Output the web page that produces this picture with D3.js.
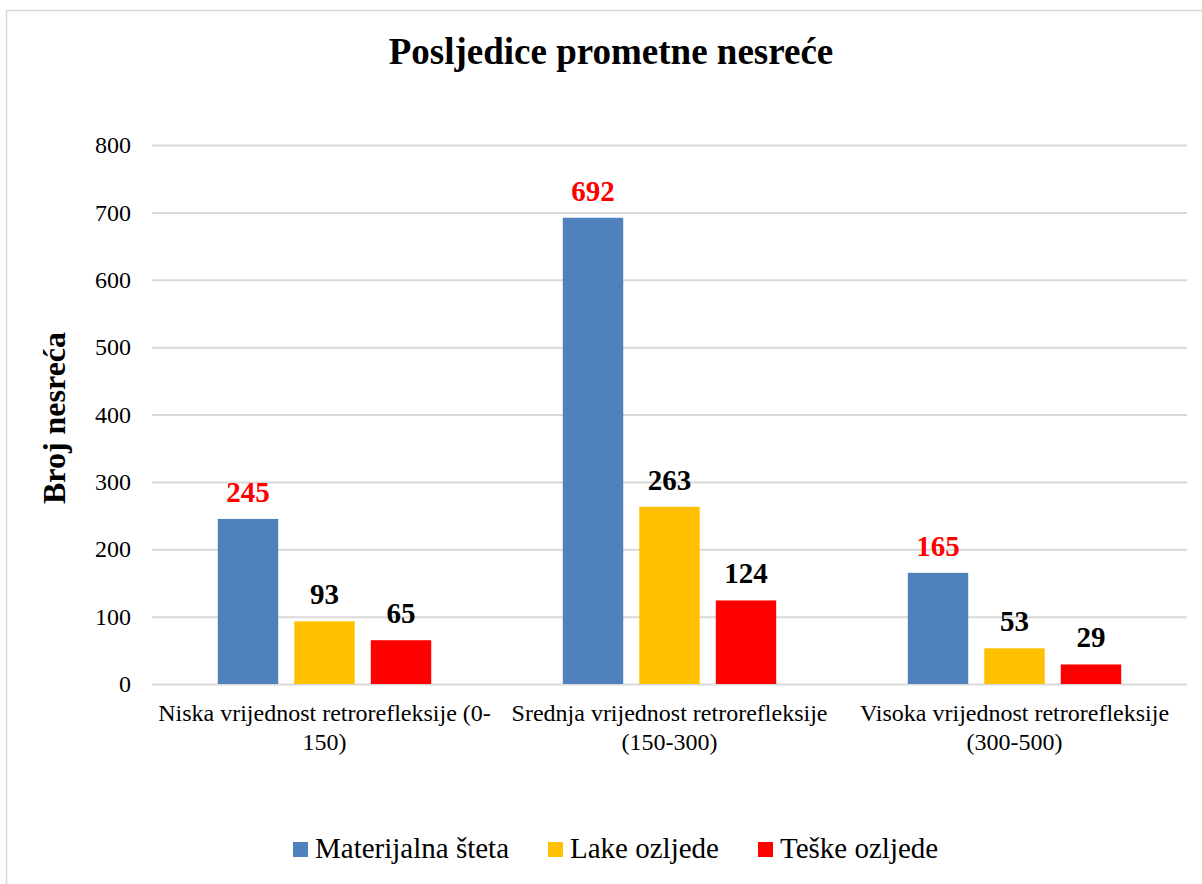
<!DOCTYPE html>
<html>
<head>
<meta charset="utf-8">
<script src="https://cdn.jsdelivr.net/npm/d3@7"></script>
<style>
  body { margin: 0; background: #fff; }
  svg text { font-family: "Liberation Serif", "Times New Roman", serif; }
</style>
</head>
<body>
<div id="chart"></div>
<script>
// Data
const categories = [
  ["Niska vrijednost retrorefleksije (0-", "150)"],
  ["Srednja vrijednost retrorefleksije", "(150-300)"],
  ["Visoka vrijednost retrorefleksije", "(300-500)"]
];
const seriesNames = ["Materijalna šteta", "Lake ozljede", "Teške ozljede"];
const materijalna = [245, 692, 165];
const lake = [93, 263, 53];
const teske = [65, 124, 29];
const yTicks = [0, 100, 200, 300, 400, 500, 600, 700, 800];

const colors = ["#4F81BD", "#FFC000", "#FF0000"];
const labelColors = ["#FF0000", "#000000", "#000000"];
const values = [materijalna, lake, teske];
const serif = "Liberation Serif, Times New Roman, serif";

const W = 1202, H = 884;
const plot = { left: 152, right: 1187, top: 145, bottom: 684 };

const svg = d3.select("#chart").append("svg")
  .attr("width", W)
  .attr("height", H);

// Chart border
svg.append("rect")
  .attr("x", 6.5).attr("y", 10.5)
  .attr("width", 1200).attr("height", 880)
  .attr("fill", "#fff")
  .attr("stroke", "#d9d9d9")
  .attr("stroke-width", 1.5);

// Title
svg.append("text")
  .attr("x", 611).attr("y", 64)
  .attr("text-anchor", "middle")
  .attr("font-family", serif)
  .style("font-size", "37px")
  .style("font-weight", "bold")
  .text("Posljedice prometne nesreće");

// Scales
const catIdx = d3.range(categories.length);
const x0 = d3.scaleBand()
  .domain(catIdx)
  .range([plot.left, plot.right])
  .padding(0);

const x1 = d3.scaleBand()
  .domain(d3.range(seriesNames.length))
  .range([0, x0.bandwidth()])
  .paddingInner(0.21)
  .paddingOuter(0.86);

const y = d3.scaleLinear()
  .domain([0, 800])
  .range([plot.bottom, plot.top]);

// Gridlines + y labels via axis
const yAxis = d3.axisLeft(y)
  .tickValues(yTicks)
  .tickSize(-(plot.right - plot.left))
  .tickPadding(21);

const gy = svg.append("g")
  .attr("transform", "translate(" + plot.left + ",0)")
  .call(yAxis)
  .attr("font-family", serif)
  .attr("font-size", 24);
gy.select(".domain").remove();
gy.selectAll(".tick line")
  .style("stroke", "#d9d9d9")
  .style("stroke-width", 2);
gy.selectAll(".tick text")
  .style("fill", "#000");

// Bars
const groups = svg.selectAll(".group")
  .data(catIdx)
  .enter().append("g")
  .attr("class", "group")
  .attr("transform", d => "translate(" + x0(d) + ",0)");

groups.selectAll("rect")
  .data(c => values.map((v, s) => ({ s: s, v: v[c] })))
  .enter().append("rect")
  .attr("x", d => x1(d.s))
  .attr("y", d => y(d.v))
  .attr("width", x1.bandwidth())
  .attr("height", d => y(0) - y(d.v))
  .attr("fill", d => colors[d.s]);

// Data labels
groups.selectAll(".label")
  .data(c => values.map((v, s) => ({ s: s, v: v[c] })))
  .enter().append("text")
  .attr("class", "label")
  .attr("x", d => x1(d.s) + x1.bandwidth() / 2)
  .attr("y", d => y(d.v) - 17)
  .attr("text-anchor", "middle")
  .attr("font-family", serif)
  .style("font-size", "29px")
  .style("font-weight", "bold")
  .style("fill", d => labelColors[d.s])
  .text(d => d.v);

// Category labels (x axis)
const xAxis = d3.axisBottom(x0).tickSize(0).tickFormat("");
const gx = svg.append("g")
  .attr("transform", "translate(0," + plot.bottom + ")")
  .call(xAxis)
  .attr("font-family", serif)
  .attr("font-size", 24);
gx.select(".domain").remove();
gx.selectAll(".tick").each(function(d) {
  const t = d3.select(this).append("text")
    .attr("text-anchor", "middle")
    .attr("fill", "#000");
  categories[d].forEach((line, i) => {
    t.append("tspan").attr("x", 0).attr("y", 37 + i * 28.5).text(line);
  });
});

// Y axis title
svg.append("text")
  .attr("transform", "translate(65,418) rotate(-90)")
  .attr("text-anchor", "middle")
  .attr("font-family", serif)
  .style("font-size", "32px")
  .style("font-weight", "bold")
  .text("Broj nesreća");

// Legend
const legendX = [293, 548, 758];
const legend = svg.selectAll(".legend")
  .data(seriesNames)
  .enter().append("g")
  .attr("class", "legend")
  .attr("font-family", serif)
  .attr("transform", (d, i) => "translate(" + legendX[i] + ",0)");
legend.append("rect")
  .attr("x", 0).attr("y", 842)
  .attr("width", 15).attr("height", 15)
  .attr("fill", (d, i) => colors[i]);
legend.append("text")
  .attr("x", 22).attr("y", 858)
  .style("font-size", "29px")
  .text(d => d);
</script>
</body>
</html>
